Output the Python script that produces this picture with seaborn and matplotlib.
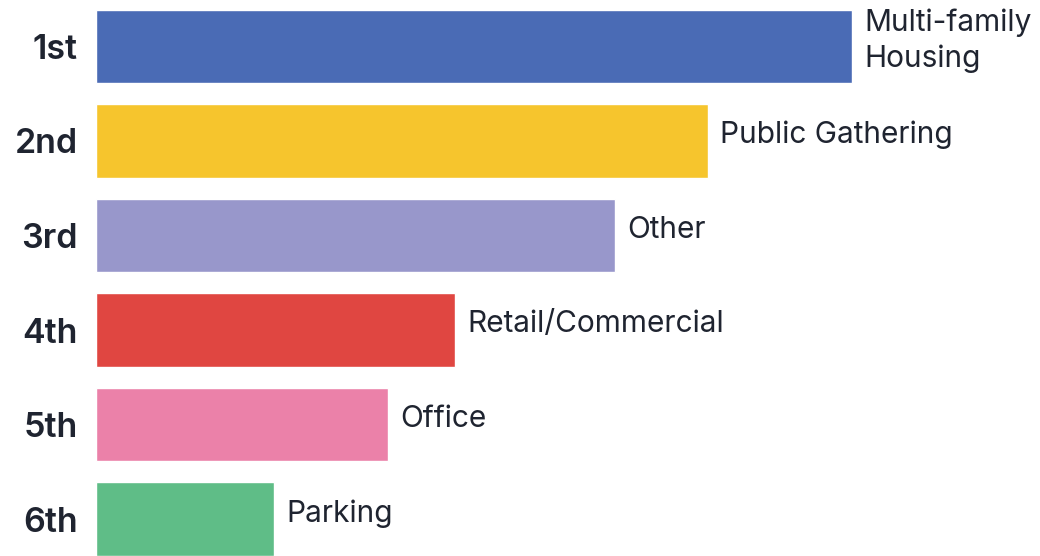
import matplotlib
matplotlib.use("Agg")
import matplotlib.pyplot as plt
import seaborn as sns
import pandas as pd

# Data (bar lengths in relative units)
ranks = ['1st', '2nd', '3rd', '4th', '5th', '6th']
categories = ['Multi-family\nHousing', 'Public Gathering', 'Other',
              'Retail/Commercial', 'Office', 'Parking']
values = [756, 612, 519, 359, 292, 178]
colors = ['#4a6bb5', '#f6c52d', '#9897cb', '#e04641', '#eb81a9', '#5fbd87']

df = pd.DataFrame({'rank': ranks, 'category': categories, 'value': values})

sns.set_theme(style='white')
plt.rcParams['font.family'] = ['Inter', 'DejaVu Sans']
text_color = '#1f2430'

fig = plt.figure(figsize=(10.4, 5.56), dpi=100)
ax = fig.add_axes([96 / 1040, 0, 944 / 1040, 1])

sns.barplot(data=df, x='value', y='rank', hue='rank', palette=colors,
            orient='h', width=0.775, legend=False, ax=ax, saturation=1)

# Category labels at the end of each bar
for i, (v, c) in enumerate(zip(values, categories)):
    ax.text(v + 12, i - 0.06, c, va='center', ha='left', fontsize=21.5,
            color=text_color, linespacing=1.35)

ax.set_xlim(0, 944)
ax.set_ylim(5.39, -0.49)
ax.set_xlabel('')
ax.set_ylabel('')
ax.set_xticks([])
ax.tick_params(axis='y', length=0, pad=13, labelsize=24.5, labelcolor=text_color)
for lab in ax.get_yticklabels():
    lab.set_fontweight('semibold')
sns.despine(ax=ax, left=True, bottom=True)

fig.savefig('out.png', dpi=100)
